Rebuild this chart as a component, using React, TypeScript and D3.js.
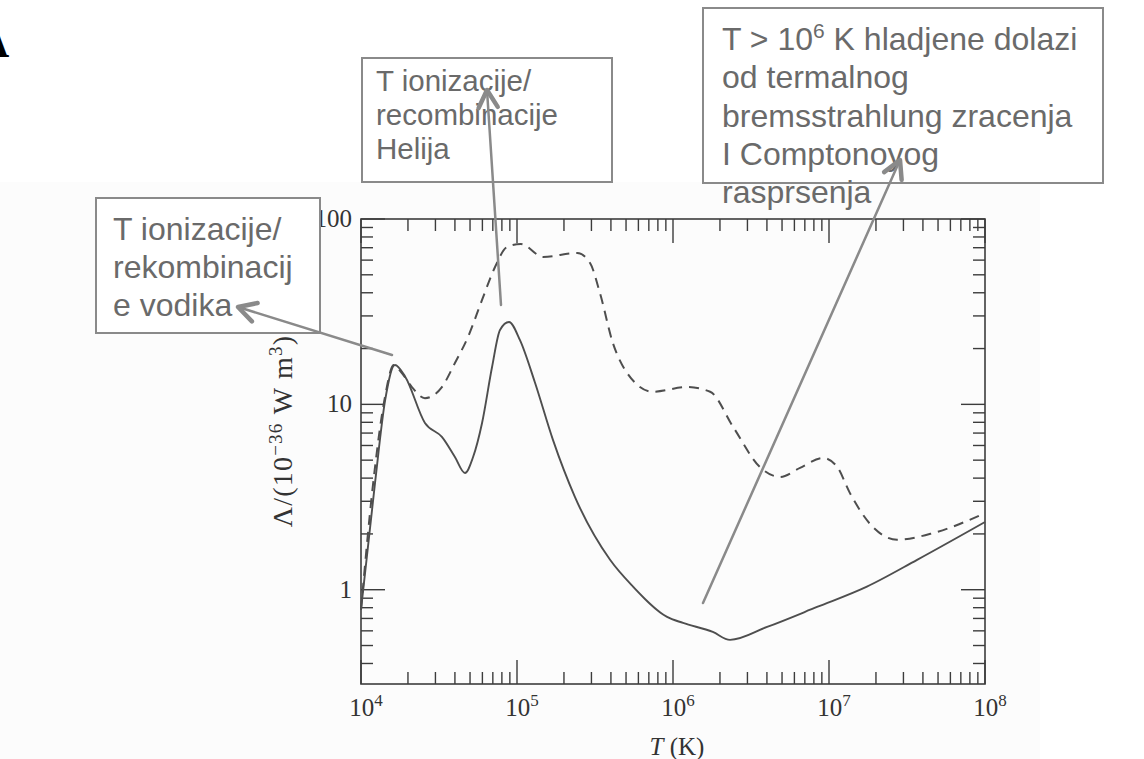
import React from 'react';
import * as d3 from 'd3';

// ---- data ----
const T_SOLID = [1.0e4, 1.23e4, 1.43e4, 1.65e4, 1.92e4, 2.57e4, 3.3e4, 4.0e4, 4.64e4, 5.23e4, 5.97e4, 6.92e4, 7.78e4, 8.89e4, 1.045e5, 1.3e5, 1.7e5, 2.35e5, 3.95e5, 5.54e5, 9.16e5, 1.16e6, 1.8e6, 2.32e6, 4.01e6, 8.38e6, 1.75e7, 3.67e7, 1e8];
const L_SOLID = [0.78, 3.77, 10.6, 16.3, 14.1, 7.94, 6.67, 5.2, 4.26, 5.2, 7.94, 15.9, 25.2, 27.8, 22.2, 13.2, 6.43, 3.17, 1.45, 1.04, 0.713, 0.662, 0.592, 0.536, 0.63, 0.807, 1.04, 1.45, 2.32];

const T_DASHED = [1.0e4, 1.19e4, 1.42e4, 1.62e4, 1.8e4, 2.12e4, 2.57e4, 3.3e4, 4.0e4, 4.85e4, 5.97e4, 7.23e4, 8.63e4, 1.06e5, 1.47e5, 2.43e5, 2.94e5, 3.4e5, 4.12e5, 5.07e5, 7.44e5, 1.23e6, 1.73e6, 2.43e6, 3.61e6, 4.85e6, 6.52e6, 9.16e6, 1.13e7, 1.36e7, 1.91e7, 2.73e7, 4.64e7, 1e8];
const L_DASHED = [0.78, 3.6, 10.8, 16.3, 15.0, 12.4, 10.8, 12.4, 16.7, 23.1, 36.6, 55.1, 70.6, 73.3, 62.4, 65.6, 57.9, 39.9, 21.4, 14.8, 11.7, 12.4, 11.7, 7.55, 4.59, 4.06, 4.54, 5.14, 4.59, 3.33, 2.18, 1.86, 2.02, 2.59];

const X_MAJOR = [1e4, 1e5, 1e6, 1e7, 1e8];
const X_EXPONENTS = ['4', '5', '6', '7', '8'];
const Y_MAJOR = [1, 10, 100];
const Y_LABELS = ['1', '10', '100'];

const BOX_LEFT_LINES = ['T ionizacije/', 'rekombinacij', 'e vodika'];
const BOX_MID_LINES = ['T ionizacije/', 'recombinacije', 'Helija'];
const BOX_RIGHT_LINES = ['od termalnog', 'bremsstrahlung zracenja', 'I Comptonoyog', 'rasprsenja'];

const W = 1144;
const H = 759;
const PLOT = { left: 361, right: 985, top: 219, bottom: 684 };

const x = d3.scaleLog().domain([1e4, 1e8]).range([PLOT.left, PLOT.right]);
const y = d3.scaleLog().domain([0.31, 100]).range([PLOT.bottom, PLOT.top]);

const AXIS = '#3c3c3c';
const CURVE = '#4e4e4e';
const NOTE = '#6a6a6a';
const BOX = '#8a8a8a';
const SERIF = '"Liberation Serif", "Times New Roman", serif';
const SANS = '"Liberation Sans", Arial, sans-serif';

function minorTicks(lo: number, hi: number) {
  const out: number[] = [];
  for (let d = lo; d < hi; d *= 10) {
    for (let k = 2; k <= 9; k++) out.push(d * k);
  }
  return out;
}

function Arrow({ x1, y1, x2, y2 }: { x1: number; y1: number; x2: number; y2: number }) {
  const ang = Math.atan2(y2 - y1, x2 - x1);
  const len = 20;
  const spread = 0.5;
  const a1 = ang + Math.PI - spread;
  const a2 = ang + Math.PI + spread;
  return (
    <g stroke={BOX} fill="none" strokeLinecap="round" strokeLinejoin="round">
      <line x1={x1} y1={y1} x2={x2} y2={y2} strokeWidth={2.5} />
      <polyline
        points={`${x2 + len * Math.cos(a1)},${y2 + len * Math.sin(a1)} ${x2},${y2} ${x2 + len * Math.cos(a2)},${y2 + len * Math.sin(a2)}`}
        strokeWidth={4.5}
      />
    </g>
  );
}

export default function App() {
  const line = d3
    .line<[number, number]>()
    .x((d) => x(d[0]))
    .y((d) => y(d[1]))
    .curve(d3.curveMonotoneX);

  const solid = line(T_SOLID.map((t, i) => [t, L_SOLID[i]] as [number, number])) || '';
  const dashed = line(T_DASHED.map((t, i) => [t, L_DASHED[i]] as [number, number])) || '';

  const xMinor = minorTicks(1e4, 1e8);
  const yMinor = minorTicks(0.1, 100).filter((v) => v >= 0.31 && v <= 100);

  const MAJ = 24;
  const MIN = 12;

  return (
    <svg
      width={W}
      height={H}
      style={{ position: 'absolute', left: 0, top: 0, background: '#ffffff' }}
    >
      <rect x={0} y={182} width={1040} height={H - 182} fill="#fcfcfc" />

      {/* partial title letter */}
      <text x={-24} y={57} fontFamily={SERIF} fontSize={46} fontWeight="bold" fill="#000">A</text>

      {/* frame */}
      <rect
        x={PLOT.left}
        y={PLOT.top}
        width={PLOT.right - PLOT.left}
        height={PLOT.bottom - PLOT.top}
        fill="none"
        stroke={AXIS}
        strokeWidth={1.6}
      />

      {/* ticks */}
      <g stroke={AXIS} strokeWidth={1.4}>
        {X_MAJOR.map((v) => (
          <g key={'xM' + v}>
            <line x1={x(v)} x2={x(v)} y1={PLOT.bottom} y2={PLOT.bottom - MAJ} />
            <line x1={x(v)} x2={x(v)} y1={PLOT.top} y2={PLOT.top + MAJ} />
          </g>
        ))}
        {xMinor.map((v) => (
          <g key={'xm' + v}>
            <line x1={x(v)} x2={x(v)} y1={PLOT.bottom} y2={PLOT.bottom - MIN} />
            <line x1={x(v)} x2={x(v)} y1={PLOT.top} y2={PLOT.top + MIN} />
          </g>
        ))}
        {Y_MAJOR.map((v) => (
          <g key={'yM' + v}>
            <line x1={PLOT.left} x2={PLOT.left + MAJ} y1={y(v)} y2={y(v)} />
            <line x1={PLOT.right} x2={PLOT.right - MAJ} y1={y(v)} y2={y(v)} />
          </g>
        ))}
        {yMinor.map((v) => (
          <g key={'ym' + v}>
            <line x1={PLOT.left} x2={PLOT.left + MIN} y1={y(v)} y2={y(v)} />
            <line x1={PLOT.right} x2={PLOT.right - MIN} y1={y(v)} y2={y(v)} />
          </g>
        ))}
      </g>

      {/* x tick labels */}
      {X_MAJOR.map((v, i) => (
        <text
          key={'xl' + v}
          x={x(v) + 5}
          y={716}
          textAnchor="middle"
          fontFamily={SERIF}
          fontSize={25}
          fill="#333"
        >
          10<tspan dy={-10} fontSize={17}>{X_EXPONENTS[i]}</tspan>
        </text>
      ))}

      {/* y tick labels */}
      {Y_MAJOR.map((v, i) => (
        <text
          key={'yl' + v}
          x={352}
          y={y(v) + 8}
          textAnchor="end"
          fontFamily={SERIF}
          fontSize={25}
          fill="#333"
        >
          {Y_LABELS[i]}
        </text>
      ))}

      {/* axis titles */}
      <text x={677} y={755} textAnchor="middle" fontFamily={SERIF} fontSize={25} fill="#333">
        <tspan fontStyle="italic">T</tspan> (K)
      </text>
      <text
        transform="translate(292,431) rotate(-90)"
        textAnchor="middle"
        fontFamily={SERIF}
        fontSize={28}
        fill="#333"
        letterSpacing={1.2}
      >
        Λ/(10<tspan dy={-10} fontSize={19}>−36</tspan>
        <tspan dy={10}> W m</tspan>
        <tspan dy={-10} fontSize={19}>3</tspan>
        <tspan dy={10}>)</tspan>
      </text>

      {/* curves */}
      <path d={dashed} fill="none" stroke={CURVE} strokeWidth={2} strokeDasharray="10,7" />
      <path d={solid} fill="none" stroke={CURVE} strokeWidth={1.9} />

      {/* annotation boxes */}
      <rect x={96} y={198} width={224} height={135} fill="#ffffff" stroke={BOX} strokeWidth={2} />
      {BOX_LEFT_LINES.map((s, i) => (
        <text key={'bl' + i} x={113} y={240 + i * 38} fontFamily={SANS} fontSize={32} fill={NOTE}>{s}</text>
      ))}

      <rect x={362} y={58} width={250} height={124} fill="#ffffff" stroke={BOX} strokeWidth={2} />
      {BOX_MID_LINES.map((s, i) => (
        <text key={'bm' + i} x={376} y={91 + i * 34} fontFamily={SANS} fontSize={29.5} fill={NOTE}>{s}</text>
      ))}

      <rect x={703} y={8} width={400} height={175} fill="#ffffff" stroke={BOX} strokeWidth={2} />
      <text x={722} y={50} fontFamily={SANS} fontSize={32} fill={NOTE}>
        T &gt; 10<tspan dy={-12} fontSize={21}>6</tspan><tspan dy={12}> K hladjene dolazi</tspan>
      </text>
      {BOX_RIGHT_LINES.map((s, i) => (
        <text key={'br' + i} x={722} y={88.3 + i * 38.3} fontFamily={SANS} fontSize={32} fill={NOTE}>{s}</text>
      ))}

      {/* arrows */}
      <Arrow x1={392} y1={355} x2={238} y2={307} />
      <Arrow x1={501} y1={305} x2={487} y2={90} />
      <Arrow x1={703} y1={603} x2={900} y2={160} />
    </svg>
  );
}
